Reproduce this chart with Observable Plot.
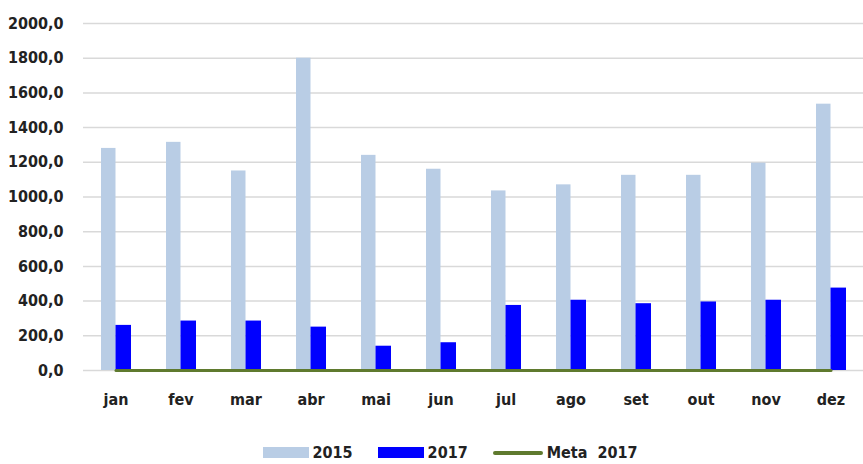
<!DOCTYPE html>
<html>
<head>
<meta charset="utf-8">
<script src="https://cdn.jsdelivr.net/npm/d3@7"></script>
<script src="https://cdn.jsdelivr.net/npm/@observablehq/plot@0.6"></script>
<style>
  html, body { margin: 0; padding: 0; background: #fff; }
  #chart { width: 863px; }
  .legend { display: flex; justify-content: center; align-items: center; margin-top: 18px;
    font-family: "DejaVu Sans Condensed", "DejaVu Sans", sans-serif; font-stretch: condensed; font-weight: bold; font-size: 16px; color: #222; padding-left: 37px; }
  .legend .item { display: flex; align-items: center; margin-right: 25px; }
  .legend .item:last-child { margin-right: 0; }
  .legend .sw { display: inline-block; width: 46px; height: 11px; margin-right: 4px; }
  .legend .ln { display: inline-block; width: 50px; height: 4px; border-radius: 2px; margin-right: 4px; }
</style>
</head>
<body>
<div id="chart"></div>
<script>
const months = ["jan","fev","mar","abr","mai","jun","jul","ago","set","out","nov","dez"];
const values2015 = [1280, 1315, 1150, 1800, 1240, 1160, 1035, 1070, 1125, 1125, 1195, 1535];
const values2017 = [260, 285, 285, 250, 140, 160, 375, 405, 385, 395, 405, 475];
const meta2017 = [0, 0, 0, 0, 0, 0, 0, 0, 0, 0, 0, 0];
const yTicks = [0, 200, 400, 600, 800, 1000, 1200, 1400, 1600, 1800, 2000];

const c2015 = "#b9cde5", c2017 = "#0000ff", cMeta = "#5f7a2e";
const font = '"DejaVu Sans Condensed", "DejaVu Sans", sans-serif';

const d2015 = months.map((m, i) => ({month: m, value: values2015[i]}));
const d2017 = months.map((m, i) => ({month: m, value: values2017[i]}));
const dMeta = months.map((m, i) => ({month: m, value: meta2017[i]}));

const chart = Plot.plot({
  width: 863,
  height: 425,
  marginTop: 23,
  marginBottom: 55,
  marginLeft: 83,
  marginRight: 0,
  style: {fontFamily: font, fontStretch: "condensed", fontSize: "16px", fontWeight: "bold", color: "#222", background: "#fff"},
  x: {domain: months, padding: 0, label: null, tickSize: 0, tickPadding: 23},
  y: {domain: [0, 2000], ticks: yTicks, label: null, tickSize: 0, tickPadding: 20,
      tickFormat: d => d.toFixed(1).replace(".", ",")},
  marks: [
    Plot.ruleY(yTicks, {stroke: "#d9d9d9", strokeWidth: 1.5}),
    Plot.barY(d2015, {x: "month", y: "value", fill: c2015, insetLeft: 18, insetRight: 32.5}),
    Plot.barY(d2017, {x: "month", y: "value", fill: c2017, insetLeft: 32.5, insetRight: 17}),
    Plot.lineY(dMeta, {x: "month", y: "value", stroke: cMeta, strokeWidth: 3})
  ]
});
document.getElementById("chart").appendChild(chart);

const legend = document.createElement("div");
legend.className = "legend";
legend.innerHTML = `
  <span class="item"><span class="sw" style="background:${c2015}"></span>2015</span>
  <span class="item"><span class="sw" style="background:${c2017}"></span>2017</span>
  <span class="item"><span class="ln" style="background:${cMeta}"></span>Meta&nbsp;&nbsp;2017</span>`;
document.getElementById("chart").appendChild(legend);
</script>
</body>
</html>
